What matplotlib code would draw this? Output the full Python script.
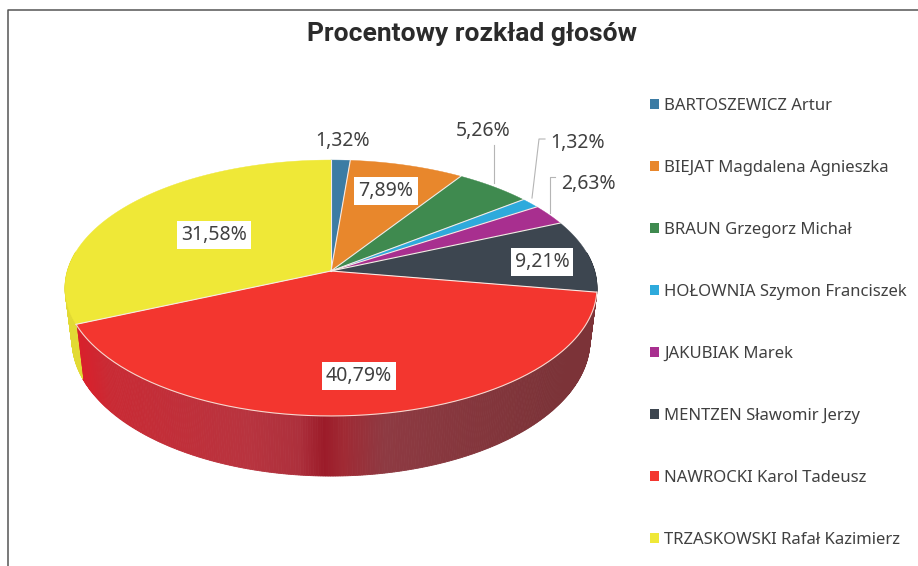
import numpy as np
import matplotlib
matplotlib.use('Agg')
import matplotlib.pyplot as plt
from matplotlib.patches import Patch

# chart data
names = ['BARTOSZEWICZ Artur', 'BIEJAT Magdalena Agnieszka', 'BRAUN Grzegorz Michał',
         'HOŁOWNIA Szymon Franciszek', 'JAKUBIAK Marek', 'MENTZEN Sławomir Jerzy',
         'NAWROCKI Karol Tadeusz', 'TRZASKOWSKI Rafał Kazimierz']
values = [1.32, 7.89, 5.26, 1.32, 2.63, 9.21, 40.79, 31.58]
colors = ['#3c7ca4', '#e8872c', '#3f8a4f', '#2eaadc', '#a82f8f', '#3d4650', '#f3362f', '#efe837']
rim_colors = ['#2c5c7a', '#ad6420', '#2e663a', '#2280a4', '#7c226a', '#2d343b', '#a01c2a', '#e2da34']

# label centres in pixels, boxed or not
label_pos = [(343, 141), (386, 191), (483, 131), (578, 143), (588, 184), (542, 262), (359, 376), (214, 235)]
label_box = [False, True, False, False, False, True, True, True]
leaders = [([494, 494], [183, 145]),
           ([532, 539, 545], [198, 139, 139]),
           ([550, 550, 555], [213, 177, 177])]

# red rim shading, left to right
rim_x = [75, 110, 250, 300, 325, 345, 385, 550, 597]
rim_r = ['#dc1f2a', '#c92a34', '#b8343f', '#ad303c', '#9c1b29', '#a02a34', '#8e3a42', '#7c3338', '#7c3338']

plt.rcParams['font.family'] = ['Noto Sans', 'DejaVu Sans']


def disc(t, cy, rx, ry, p=0.1328):
    # tilted disc with a bit of perspective
    w = 1 / (1 + p * np.sin(t))
    return 331 + rx * np.cos(t) * w, cy - ry * np.sin(t) * w


fig = plt.figure(figsize=(9.18, 5.66), dpi=100)
ax = fig.add_axes([0, 0, 1, 1])
ax.set_xlim(0, 918)
ax.set_ylim(566, 0)
ax.axis('off')

# frame of the screenshot
ax.plot([8, 8, 918], [566, 9.5, 9.5], color='#555555', lw=1.1)

cum = np.concatenate([[0], np.cumsum(values)])
angles = np.pi / 2 - 2 * np.pi * cum / cum[-1]

rgb = np.array([matplotlib.colors.to_rgb(c) for c in rim_r])

# rim first
for i in range(len(values)):
    t = np.linspace(angles[i], angles[i + 1], max(int((angles[i] - angles[i + 1]) * 120), 2))
    x1, y1 = disc(t, 271, 263.6, 125.7)
    x2, y2 = disc(t, 322, 256.7, 133.6)
    for j in range(len(t) - 1):
        if np.sin(t[j]) > 0.15:
            continue
        if i == 6:
            xm = (x1[j] + x2[j]) / 2
            c = [np.interp(xm, rim_x, rgb[:, k]) for k in range(3)]
        else:
            c = rim_colors[i]
        ax.fill([x1[j], x1[j + 1], x2[j + 1], x2[j]], [y1[j], y1[j + 1], y2[j + 1], y2[j]],
                color=c, lw=0.6, zorder=2)

# top face, no outline on the back of it
for i in range(len(values)):
    t = np.linspace(angles[i], angles[i + 1], 200)
    x, y = disc(t, 271, 263.6, 125.7)
    ax.fill(np.r_[331, x], np.r_[271, y], facecolor=colors[i], edgecolor=colors[i], lw=0.3, zorder=3)

# white lines between the slices and along the front edge
for a in angles[:-1]:
    x, y = disc(np.array([a]), 271, 263.6, 125.7)
    ax.plot([331, x[0]], [271, y[0]], color='#f6ebe6', lw=0.8, zorder=3.5)
t = np.linspace(angles[6], angles[7], 200)
x, y = disc(t, 271, 263.6, 125.7)
ax.plot(x, y, color='#f6d8d0', lw=0.8, zorder=3.5)

for xs, ys in leaders:
    ax.plot(xs, ys, color='#b5b5b5', lw=0.8, zorder=4)

for v, (lx, ly), boxed in zip(values, label_pos, label_box):
    txt = f'{v:.2f}%'.replace('.', ',')
    bbox = dict(facecolor='white', edgecolor='none', pad=3) if boxed else None
    ax.text(lx, ly, txt, ha='center', va='center', fontsize=14, color='#404040', bbox=bbox, zorder=5)

ax.text(472, 34, 'Procentowy rozkład głosów', ha='center', va='center', fontsize=19,
        fontweight='bold', color='#2b2b2b', family=['Roboto', 'DejaVu Sans'])

handles = [Patch(facecolor=c, edgecolor='none') for c in colors]
ax.legend(handles, names, loc='center left', bbox_to_anchor=(650 / 918, 1 - 322.5 / 566), frameon=False,
          fontsize=12, labelcolor='#404040', labelspacing=2.76, handlelength=0.55, handleheight=0.55,
          handletextpad=0.3, borderpad=0, borderaxespad=0)

fig.savefig('out.png', dpi=100)
